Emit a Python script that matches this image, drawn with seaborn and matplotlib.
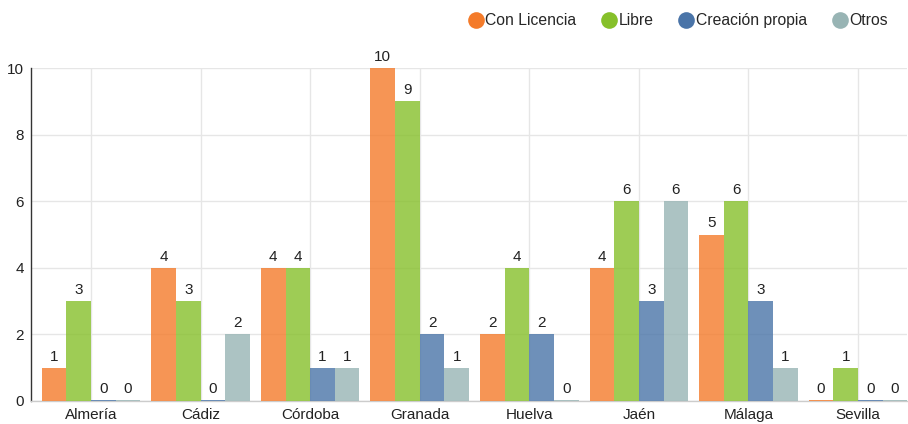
import pandas as pd
import matplotlib
matplotlib.use('Agg')
import matplotlib.pyplot as plt
from matplotlib.lines import Line2D
import seaborn as sns

# data
provincias = ['Almería', 'Cádiz', 'Córdoba', 'Granada', 'Huelva', 'Jaén', 'Málaga', 'Sevilla']
series = ['Con Licencia', 'Libre', 'Creación propia', 'Otros']
con_licencia = [1, 4, 4, 10, 2, 4, 5, 0]
libre = [3, 3, 4, 9, 4, 6, 6, 1]
creacion_propia = [0, 0, 1, 2, 2, 3, 3, 0]
otros = [0, 2, 1, 1, 0, 6, 1, 0]
colores = ['#f47b2a', '#86c02a', '#4a74a8', '#98b4b4']

sns.set_theme(style="white")
plt.rcParams['font.family'] = ['Liberation Sans', 'DejaVu Sans']

rows = []
for name, vals in zip(series, [con_licencia, libre, creacion_propia, otros]):
    for prov, v in zip(provincias, vals):
        rows.append({'provincia': prov, 'serie': name, 'valor': v})
df = pd.DataFrame(rows)

fig = plt.figure(figsize=(9.08, 4.24), dpi=100)
ax = fig.add_axes([31 / 908, 23 / 424, 876 / 908, 333 / 424])

sns.barplot(data=df, x='provincia', y='valor', hue='serie', hue_order=series,
            palette=colores, saturation=1, alpha=0.8, width=0.9, ax=ax,
            legend=False, edgecolor='none', linewidth=0, zorder=3)

# labels on top + thin line for zero bars
for cont in ax.containers:
    for patch, v in zip(cont.patches, cont.datavalues):
        if v == 0:
            patch.set_height(0.03)
    ax.bar_label(cont, labels=[f'{int(v)}' for v in cont.datavalues],
                 padding=3, fontsize=11, color='#222222')

ax.set_xlim(-0.548, 7.447)
ax.set_ylim(0, 10)
ax.set_yticks([0, 2, 4, 6, 8, 10])
ax.set_xlabel('')
ax.set_ylabel('')
ax.grid(True, color='#e6e6e6', linewidth=1, zorder=0)
ax.set_axisbelow(True)
for s in ['top', 'right']:
    ax.spines[s].set_visible(False)
ax.spines['left'].set_color('#333333')
ax.spines['left'].set_linewidth(1)
ax.spines['bottom'].set_color('#cccccc')
ax.spines['bottom'].set_linewidth(1)
ax.tick_params(axis='both', labelsize=11, colors='#222222', length=0, pad=5)

handles = [Line2D([0], [0], marker='o', linestyle='', markersize=12,
                  markerfacecolor=c, markeredgecolor='none') for c in colores]
fig.legend(handles, series, loc='upper right', bbox_to_anchor=(0.99, 0.995),
           ncol=4, frameon=False, fontsize=11.3, handletextpad=-0.4,
           columnspacing=1.1, borderaxespad=0.3)

fig.savefig('out.png', dpi=100)
